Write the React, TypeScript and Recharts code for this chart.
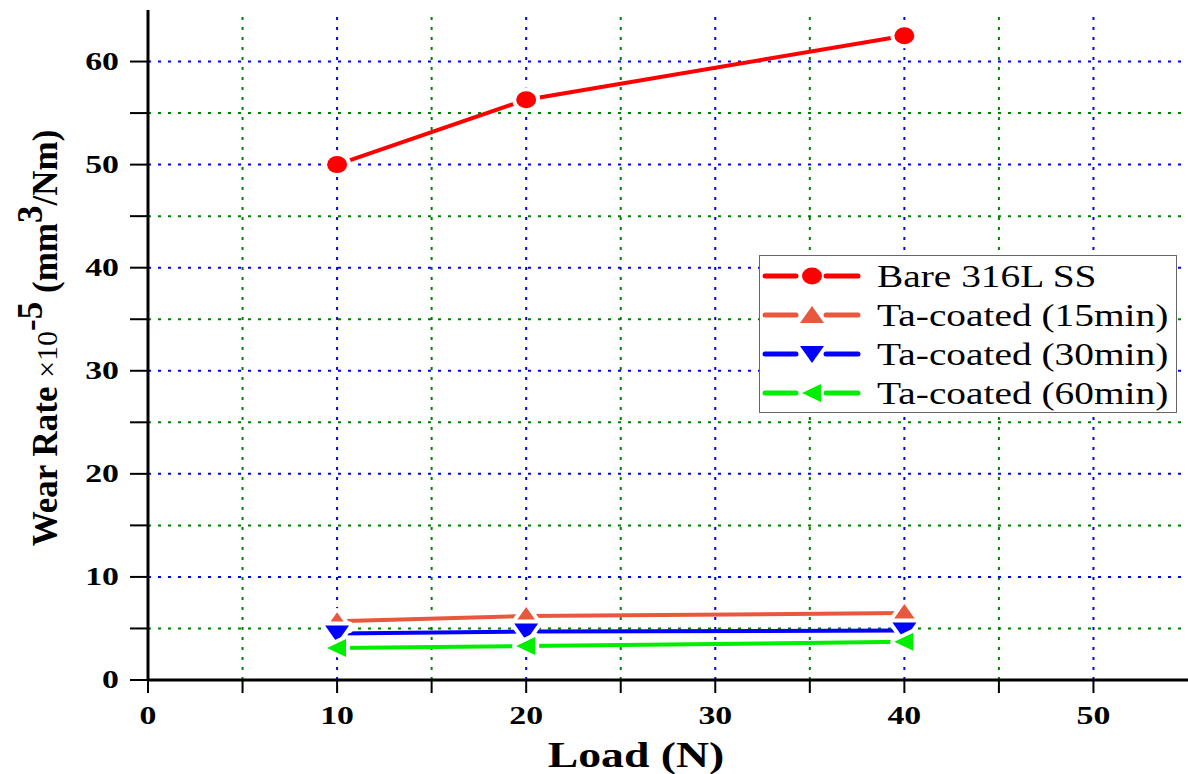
import React from "react";
import { LineChart, Line, XAxis, YAxis, ReferenceLine, Legend } from "recharts";

const loads = [10, 20, 40];
const bare316L = [50.0, 56.3, 62.5];
const ta15min = [5.7, 6.2, 6.5];
const ta30min = [4.5, 4.7, 4.8];
const ta60min = [3.1, 3.3, 3.7];

const xTicks = [0, 5, 10, 15, 20, 25, 30, 35, 40, 45, 50];
const yTicks = [0, 5, 10, 15, 20, 25, 30, 35, 40, 45, 50, 55, 60];
const majorX = [10, 20, 30, 40, 50];
const minorX = [5, 15, 25, 35, 45];
const majorY = [10, 20, 30, 40, 50, 60];
const minorY = [5, 15, 25, 35, 45, 55];

const series = [
  { key: "bare", name: "Bare 316L SS", color: "#FF0000", marker: "circle", values: bare316L },
  { key: "ta15", name: "Ta-coated (15min)", color: "#E8583E", marker: "up", values: ta15min },
  { key: "ta30", name: "Ta-coated (30min)", color: "#0000FF", marker: "down", values: ta30min },
  { key: "ta60", name: "Ta-coated (60min)", color: "#00EE00", marker: "left", values: ta60min },
];

const data = loads.map((load, i) => {
  const row: Record<string, number> = { load };
  series.forEach((s) => {
    row[s.key] = s.values[i];
  });
  return row;
});

const serif = "'Liberation Serif', 'Times New Roman', serif";

function shape(type: string, cx: number, cy: number, props: any) {
  switch (type) {
    case "circle":
      return <ellipse cx={cx} cy={cy} rx={10} ry={8.5} {...props} />;
    case "up":
      return <polygon points={`${cx},${cy - 9} ${cx + 12},${cy + 8} ${cx - 12},${cy + 8}`} {...props} />;
    case "down":
      return <polygon points={`${cx - 12},${cy - 8} ${cx + 12},${cy - 8} ${cx},${cy + 9}`} {...props} />;
    default:
      return <polygon points={`${cx - 10},${cy} ${cx + 9},${cy - 9} ${cx + 9},${cy + 9}`} {...props} />;
  }
}

// white halo behind each marker gives the gap where the line meets it
function makeDot(type: string, color: string) {
  return (p: any) => (
    <g key={p.key ?? `${type}-${p.index}`}>
      {shape(type, p.cx, p.cy, { fill: "#fff", stroke: "#fff", strokeWidth: 8, strokeLinejoin: "round" })}
      {shape(type, p.cx, p.cy, { fill: color })}
    </g>
  );
}

const YTick = (p: any) => {
  const v = p.payload.value;
  if (v % 10 !== 0) return <g />;
  return (
    <text
      transform={`translate(${p.x - 9},${p.y + 8}) scale(1.3,1)`}
      textAnchor="end"
      fontFamily={serif}
      fontWeight="bold"
      fontSize={26}
      fill="#000"
    >
      {v}
    </text>
  );
};

const XTick = (p: any) => {
  const v = p.payload.value;
  if (v % 10 !== 0) return <g />;
  return (
    <text
      transform={`translate(${p.x},${p.y + 29}) scale(1.3,1)`}
      textAnchor="middle"
      fontFamily={serif}
      fontWeight="bold"
      fontSize={26}
      fill="#000"
    >
      {v}
    </text>
  );
};

const YTitle = () => (
  <text
    transform="translate(57,338) rotate(-90)"
    textAnchor="middle"
    fontFamily={serif}
    fontWeight="bold"
    fontSize={35}
    fill="#000"
  >
    <tspan>Wear Rate </tspan>
    <tspan fontWeight="normal" fontSize={30}>×10</tspan>
    <tspan dy={-15}>-5</tspan>
    <tspan dy={15}> (mm</tspan>
    <tspan dy={-15}>3</tspan>
    <tspan dy={15}>/Nm)</tspan>
  </text>
);

const XTitle = () => (
  <text
    transform="translate(636,767) scale(1.27,1)"
    textAnchor="middle"
    fontFamily={serif}
    fontWeight="bold"
    fontSize={36}
    fill="#000"
  >
    Load (N)
  </text>
);

const LegendBox = () => (
  <div
    style={{
      width: 418,
      height: 158,
      border: "1.5px solid #666",
      boxSizing: "border-box",
      background: "#fff",
      fontFamily: serif,
      paddingTop: 1,
    }}
  >
    {series.map((s) => (
      <div key={s.key} style={{ display: "flex", alignItems: "center", height: 39 }}>
        <svg width={117} height={39} style={{ flex: "none" }}>
          <line x1={5} x2={36} y1={19} y2={19} stroke={s.color} strokeWidth={5} strokeLinecap="round" />
          <line x1={66} x2={98} y1={19} y2={19} stroke={s.color} strokeWidth={5} strokeLinecap="round" />
          {shape(s.marker, 52, 19, { fill: s.color })}
        </svg>
        <span
          style={{
            fontSize: 31,
            display: "inline-block",
            transform: "scaleX(1.27)",
            transformOrigin: "left center",
            whiteSpace: "nowrap",
            lineHeight: "39px",
          }}
        >
          {s.name}
        </span>
      </div>
    ))}
  </div>
);

export default function App() {
  return (
    <div style={{ position: "absolute", left: 0, top: 0, width: 1188, height: 774, background: "#fff" }}>
      <LineChart width={1188} height={774} data={data} margin={{ top: 10, right: 0, left: 0, bottom: 0 }}>
        {minorX.map((v) => (
          <ReferenceLine key={`mx${v}`} x={v} stroke="#008000" strokeWidth={2} strokeDasharray="3 7" />
        ))}
        {majorX.map((v) => (
          <ReferenceLine key={`MX${v}`} x={v} stroke="#0000FF" strokeWidth={2} strokeDasharray="3 7" />
        ))}
        {minorY.map((v) => (
          <ReferenceLine key={`my${v}`} y={v} stroke="#008000" strokeWidth={2} strokeDasharray="3 7" />
        ))}
        {majorY.map((v) => (
          <ReferenceLine key={`MY${v}`} y={v} stroke="#0000FF" strokeWidth={2} strokeDasharray="3 7" />
        ))}
        <XAxis
          dataKey="load"
          type="number"
          domain={[0, 55]}
          ticks={xTicks}
          interval={0}
          height={94}
          tickSize={13}
          axisLine={{ stroke: "#000", strokeWidth: 3 }}
          tickLine={{ stroke: "#000", strokeWidth: 2 }}
          tick={<XTick />}
        />
        <YAxis
          type="number"
          domain={[0, 65]}
          ticks={yTicks}
          interval={0}
          width={148}
          tickSize={18}
          axisLine={{ stroke: "#000", strokeWidth: 3 }}
          tickLine={{ stroke: "#000", strokeWidth: 2 }}
          tick={<YTick />}
        />
        {series.map((s) => (
          <Line
            key={s.key}
            dataKey={s.key}
            name={s.name}
            type="linear"
            stroke={s.color}
            strokeWidth={4}
            dot={makeDot(s.marker, s.color)}
            activeDot={false}
            isAnimationActive={false}
          />
        ))}
        <Legend
          layout="vertical"
          align="center"
          verticalAlign="middle"
          content={<LegendBox />}
          wrapperStyle={{ left: 759, top: 255, width: 418, height: 158 }}
        />
      </LineChart>
      <svg width={1188} height={774} style={{ position: "absolute", left: 0, top: 0, pointerEvents: "none" }}>
        <YTitle />
        <XTitle />
      </svg>
    </div>
  );
}
